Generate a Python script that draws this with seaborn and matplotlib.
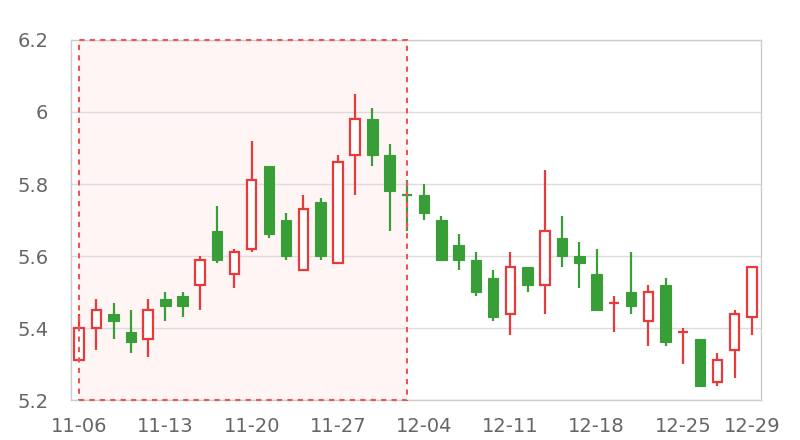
import numpy as np
import pandas as pd
import matplotlib
matplotlib.use('Agg')
import matplotlib.pyplot as plt
import seaborn as sns

# trading days, 2023-11-06 .. 2023-12-29
dates = pd.bdate_range('2023-11-06', '2023-12-29').strftime('%m-%d').tolist()

# candle values
opens = [5.31, 5.40, 5.44, 5.39, 5.37, 5.48, 5.49, 5.52, 5.67, 5.55,
         5.62, 5.85, 5.70, 5.56, 5.75, 5.58, 5.88, 5.98, 5.88, 5.77,
         5.77, 5.70, 5.63, 5.59, 5.54, 5.44, 5.57, 5.52, 5.65, 5.60,
         5.55, 5.47, 5.50, 5.42, 5.52, 5.39, 5.37, 5.25, 5.34, 5.43]
closes = [5.40, 5.45, 5.42, 5.36, 5.45, 5.46, 5.46, 5.59, 5.59, 5.61,
          5.81, 5.66, 5.60, 5.73, 5.60, 5.86, 5.98, 5.88, 5.78, 5.77,
          5.72, 5.59, 5.59, 5.50, 5.43, 5.57, 5.52, 5.67, 5.60, 5.58,
          5.45, 5.47, 5.46, 5.50, 5.36, 5.39, 5.24, 5.31, 5.44, 5.57]
highs = [5.44, 5.48, 5.47, 5.45, 5.48, 5.50, 5.50, 5.60, 5.74, 5.62,
         5.92, 5.85, 5.72, 5.77, 5.76, 5.88, 6.05, 6.01, 5.91, 5.81,
         5.80, 5.71, 5.66, 5.61, 5.56, 5.61, 5.57, 5.84, 5.71, 5.64,
         5.62, 5.49, 5.61, 5.52, 5.54, 5.40, 5.37, 5.33, 5.45, 5.57]
lows = [5.31, 5.34, 5.37, 5.33, 5.32, 5.42, 5.43, 5.45, 5.58, 5.51,
        5.61, 5.65, 5.59, 5.56, 5.59, 5.58, 5.77, 5.85, 5.67, 5.67,
        5.70, 5.59, 5.56, 5.49, 5.42, 5.38, 5.50, 5.44, 5.57, 5.51,
        5.45, 5.39, 5.44, 5.35, 5.35, 5.30, 5.24, 5.24, 5.26, 5.38]

y_ticks = [5.2, 5.4, 5.6, 5.8, 6.0, 6.2]
y_tick_labels = ['5.2', '5.4', '5.6', '5.8', '6', '6.2']
tick_idx = [0, 5, 10, 15, 20, 25, 30, 35, 39]
highlight = (0, 19)  # 11-06 .. 12-01

up_color = '#e83a3a'
down_color = '#389e38'
text_color = '#666666'
grid_color = '#dcdcdc'

df = pd.DataFrame({'date': dates, 'open': opens, 'close': closes, 'high': highs, 'low': lows})
df['x'] = np.arange(len(df))

# up/down sign, equal open/close compares with previous close
signs = []
for i, r in df.iterrows():
    if r['close'] > r['open']:
        signs.append(1)
    elif r['close'] < r['open']:
        signs.append(-1)
    else:
        signs.append(1 if i == 0 or df['close'][i - 1] <= r['close'] else -1)
df['sign'] = signs

sns.set_theme(style='white')
plt.rcParams['font.family'] = ['DejaVu Sans']

fig = plt.figure(figsize=(8, 4.4), dpi=100)
ax = fig.add_axes([70.5 / 800, 40 / 440, 690 / 800, 360 / 440])

# highlighted window
ax.axvspan(highlight[0], highlight[1], ymin=0, ymax=1, facecolor='#fff5f5', edgecolor='none', zorder=0)
ax.add_patch(plt.Rectangle((highlight[0], 5.2), highlight[1] - highlight[0], 1.0, fill=False,
                           edgecolor='#ec5555', linestyle=(0, (2.5, 2.5)), linewidth=1.5, zorder=4,
                           clip_on=False))

for y in y_ticks:
    ax.axhline(y, color=grid_color, linewidth=1, zorder=1)

body_w = 0.62
for _, r in df.iterrows():
    c = up_color if r['sign'] > 0 else down_color
    ax.vlines(r['x'], r['low'], r['high'], color=c, linewidth=1.6, zorder=2)
    lo = min(r['open'], r['close'])
    h = abs(r['close'] - r['open'])
    if h == 0:
        ax.hlines(lo, r['x'] - body_w / 2, r['x'] + body_w / 2, color=c, linewidth=1.6, zorder=3)
    elif r['sign'] > 0:
        ax.bar(r['x'], h, bottom=lo, width=body_w - 0.08, facecolor='white', edgecolor=c, linewidth=1.6, zorder=3)
    else:
        ax.bar(r['x'], h, bottom=lo, width=body_w, facecolor=c, edgecolor=c, linewidth=0.8, zorder=3)

ax.set_xlim(-0.5, len(df) - 0.5)
ax.set_ylim(5.2, 6.2)
ax.set_yticks(y_ticks)
ax.set_yticklabels(y_tick_labels)
ax.set_xticks(tick_idx)
ax.set_xticklabels([dates[i] for i in tick_idx], family=['Liberation Sans Narrow', 'DejaVu Sans'])
ax.tick_params(axis='y', length=0, pad=16, labelsize=14, labelcolor=text_color)
ax.tick_params(axis='x', length=0, pad=12, labelsize=14, labelcolor=text_color)

for s in ax.spines.values():
    s.set_color('#cccccc')
    s.set_linewidth(1)

fig.savefig('out.png', dpi=100)
